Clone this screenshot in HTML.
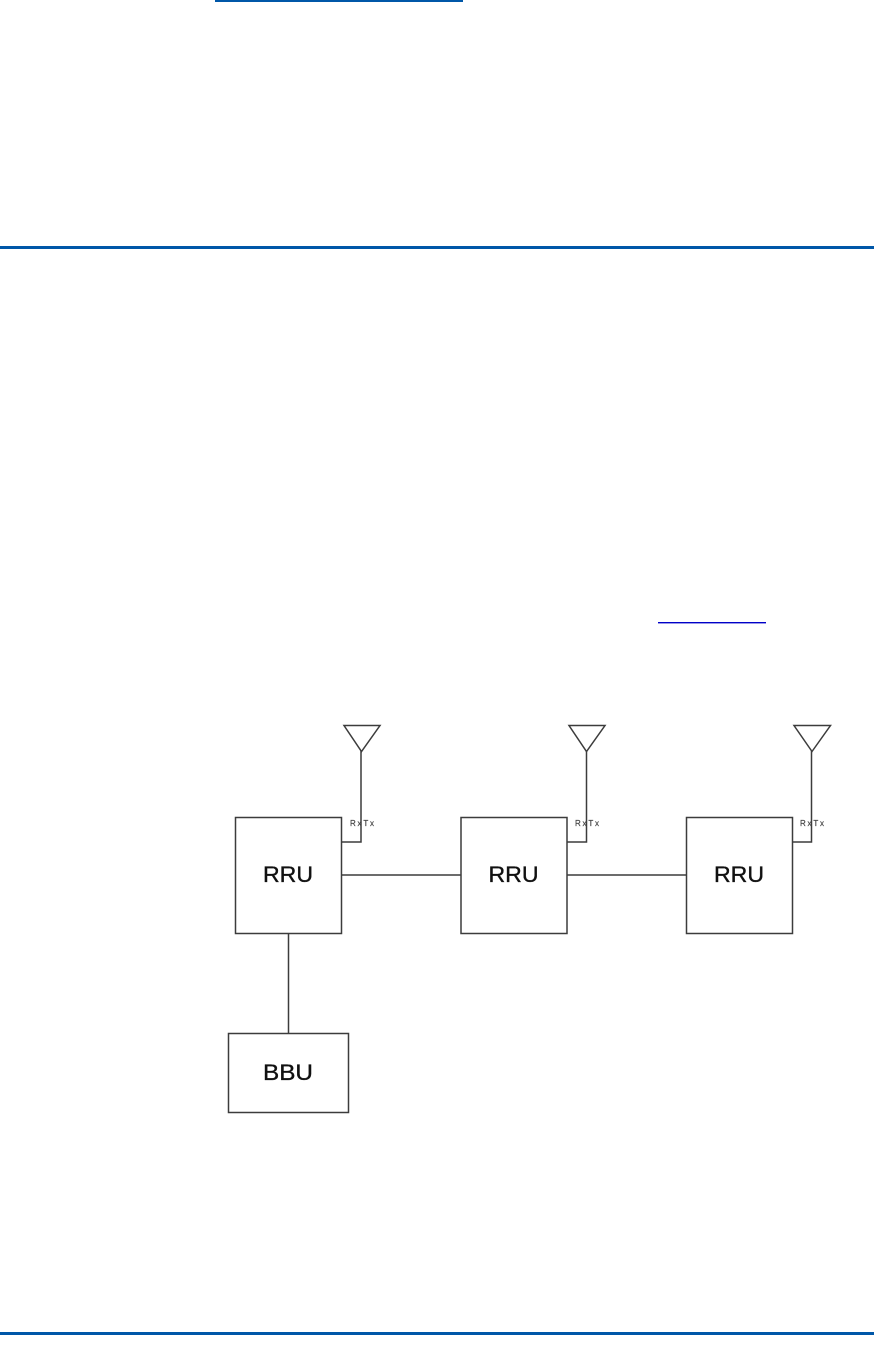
<!DOCTYPE html>
<html>
<head>
<meta charset="utf-8">
<style>
html,body{margin:0;padding:0;background:#fff;width:874px;height:1358px;overflow:hidden}
svg{display:block}
text{font-family:"Liberation Sans",sans-serif}
</style>
</head>
<body>
<svg width="874" height="1358" viewBox="0 0 874 1358" xmlns="http://www.w3.org/2000/svg">
<rect x="215" y="0" width="248" height="2" fill="#0057a8"/>
<rect x="0" y="246" width="874" height="3" fill="#0057a8"/>
<rect x="658" y="622" width="108" height="1.4" fill="#0000c8"/>
<rect x="0" y="1332" width="874" height="3" fill="#0057a8"/>
<g fill="none" stroke="#3c3c3c" stroke-width="1.5">
<rect x="235.500" y="817.500" width="106" height="116"/>
<rect x="461" y="817.500" width="106" height="116"/>
<rect x="686.500" y="817.500" width="106" height="116"/>
<rect x="228.500" y="1033.500" width="120" height="79"/>
<path d="M341.500 875H461M567 875H686.500M288.500 933.500V1033.500"/>
<path d="M344 725.500H380L361.500 751.500Z"/>
<path d="M361 751V842H341.500"/>
<path d="M569 725.500H605L586.500 751.500Z"/>
<path d="M586.500 751V842H567"/>
<path d="M794 725.500H830.500L812 751.500Z"/>
<path d="M811.500 751V842H792.500"/>
</g>
<g font-size="22" text-anchor="middle" fill="#111" stroke="#111" stroke-width="0.35">
<text x="288" y="882" textLength="50" lengthAdjust="spacingAndGlyphs">RRU</text>
<text x="513.500" y="882" textLength="50" lengthAdjust="spacingAndGlyphs">RRU</text>
<text x="739" y="882" textLength="50" lengthAdjust="spacingAndGlyphs">RRU</text>
<text x="288" y="1080" textLength="50" lengthAdjust="spacingAndGlyphs">BBU</text>
</g>
<g font-size="8" fill="#444" stroke="#444" stroke-width="0.2">
<text x="350" y="826" textLength="24" lengthAdjust="spacing">RxTx</text>
<text x="575" y="826" textLength="24" lengthAdjust="spacing">RxTx</text>
<text x="800" y="826" textLength="24" lengthAdjust="spacing">RxTx</text>
</g>
</svg>
</body>
</html>
